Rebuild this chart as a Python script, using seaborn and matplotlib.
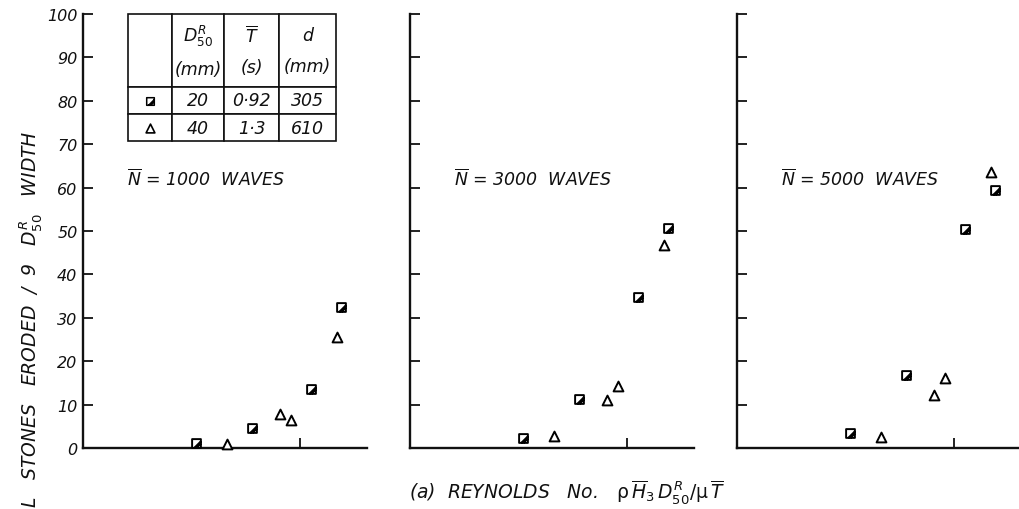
import numpy as np
import pandas as pd
import matplotlib
matplotlib.use("Agg")
import matplotlib.pyplot as plt
from matplotlib.path import Path
import seaborn as sns

# ---------------- data ----------------
wave_counts = ["1000", "3000", "5000"]
square_x = [0.52, 0.78, 1.05, 1.19]          # relative Reynolds number, D50=20 mm
triangle_x = [0.665, 0.91, 0.96, 1.17]       # relative Reynolds number, D50=40 mm
square_y_1000 = [1.1, 4.7, 13.7, 32.5]
square_y_3000 = [2.3, 11.4, 34.8, 50.8]
square_y_5000 = [3.5, 16.8, 50.4, 59.5]
triangle_y_1000 = [1.0, 7.8, 6.4, 25.5]
triangle_y_3000 = [2.7, 11.0, 14.3, 46.8]
triangle_y_5000 = [2.5, 12.2, 16.1, 63.5]
y_ticks = list(range(0, 101, 10))
x_ticks = [1.0]
table_header = ["", "$D^{R}_{50}$\n(mm)", "$\\overline{T}$\n(s)", "d\n(mm)"]
table_rows = [["", "20", "0\u00b792", "305"], ["", "40", "1\u00b73", "610"]]

square_y = {"1000": square_y_1000, "3000": square_y_3000, "5000": square_y_5000}
triangle_y = {"1000": triangle_y_1000, "3000": triangle_y_3000, "5000": triangle_y_5000}

rows = []
for w in wave_counts:
    for x, y in zip(square_x, square_y[w]):
        rows.append({"waves": w, "series": "square", "x": x, "y": y})
    for x, y in zip(triangle_x, triangle_y[w]):
        rows.append({"waves": w, "series": "triangle", "x": x, "y": y})
df = pd.DataFrame(rows)

# ---------------- style ----------------
sns.set_theme(style="ticks")
plt.rcParams["font.family"] = ["DejaVu Sans"]
plt.rcParams["mathtext.fontset"] = "custom"
plt.rcParams["mathtext.it"] = "DejaVu Sans:italic"
plt.rcParams["mathtext.rm"] = "DejaVu Sans"
plt.rcParams["mathtext.cal"] = "DejaVu Sans:italic"

# square marker with a hatched corner
sq_verts = [(-1, -1), (1, -1), (1, 1), (-1, 1), (-1, -1),
            (0.0, -1), (1, 0.0), (-0.5, -1), (1, 0.5)]
sq_codes = [Path.MOVETO, Path.LINETO, Path.LINETO, Path.LINETO, Path.CLOSEPOLY,
            Path.MOVETO, Path.LINETO, Path.MOVETO, Path.LINETO]
square_marker = Path(sq_verts, sq_codes)

W, H = 1020, 510
fig = plt.figure(figsize=(W / 100, H / 100), dpi=100)
fig.patch.set_facecolor("white")

lefts = [83, 410, 737]
ax_w = 284
ax_bottom = 61
ax_h = 434
axes = []
for i, w in enumerate(wave_counts):
    ax = fig.add_axes([lefts[i] / W, ax_bottom / H, ax_w / W, ax_h / H])
    axes.append(ax)
    sub = df[df["waves"] == w]
    sns.scatterplot(data=sub[sub["series"] == "square"], x="x", y="y", ax=ax,
                    marker=square_marker, s=40, color="white", edgecolor="black",
                    linewidth=1.4, zorder=3, clip_on=False)
    sns.scatterplot(data=sub[sub["series"] == "triangle"], x="x", y="y", ax=ax,
                    marker="^", s=50, color="white", edgecolor="black",
                    linewidth=1.4, zorder=3, clip_on=False)
    ax.set_xlim(0, 1.31)
    ax.set_ylim(0, 100)
    ax.set_xticks(x_ticks)
    ax.set_yticks(y_ticks)
    ax.set_xlabel("")
    ax.set_ylabel("")
    ax.set_facecolor("white")
    for s in ["top", "right"]:
        ax.spines[s].set_visible(False)
    for s in ["left", "bottom"]:
        ax.spines[s].set_linewidth(1.7)
        ax.spines[s].set_color("#111111")
    ax.tick_params(axis="both", direction="in", length=7.5, width=1.3, color="#111111")
    ax.tick_params(axis="x", labelbottom=False)
    if i == 0:
        ax.tick_params(axis="y", labelsize=11.5, pad=4, labelcolor="#111111")
        for lab in ax.get_yticklabels():
            lab.set_fontstyle("italic")
    else:
        ax.tick_params(axis="y", labelleft=False)
    ax.text(0.155, 0.622, "$\\overline{N}$ = %s  WAVES" % w, transform=ax.transAxes,
            ha="left", va="center", fontsize=12.5, fontstyle="italic", color="#111111")

# ---------------- table in first panel ----------------
ax = axes[0]
tbl_left = (128 - 83) / ax_w
tbl_right = (336 - 83) / ax_w
tbl_top = 1.0
tbl_bottom = 1 - (142 - 15) / ax_h
col_px = [44, 52, 55, 57]
row_px = [73, 27, 27]
col_w = [c / sum(col_px) for c in col_px]
tbl = ax.table(cellText=[table_header] + table_rows, colWidths=col_w,
               cellLoc="center",
               bbox=[tbl_left, tbl_bottom, tbl_right - tbl_left, tbl_top - tbl_bottom])
tbl.auto_set_font_size(False)
for (r, c), cell in tbl.get_celld().items():
    cell.set_height(row_px[r])
    cell.set_edgecolor("#111111")
    cell.set_linewidth(1.2)
    cell.set_facecolor("white")
    t = cell.get_text()
    t.set_fontsize(12.5)
    t.set_fontstyle("italic")
    t.set_color("#111111")
    if r == 0:
        t.set_linespacing(1.9)

# legend markers inside the table's first column
tw = tbl_right - tbl_left
th = tbl_top - tbl_bottom
mx = tbl_left + tw * col_w[0] / 2
row1_c = tbl_top - th * (row_px[0] + row_px[1] / 2) / sum(row_px)
row2_c = tbl_top - th * (row_px[0] + row_px[1] + row_px[2] / 2) / sum(row_px)
ax.scatter([mx], [row1_c], transform=ax.transAxes, marker=square_marker, s=30,
           facecolor="white", edgecolor="black", linewidth=1.1, zorder=5, clip_on=False)
ax.scatter([mx], [row2_c], transform=ax.transAxes, marker="^", s=40,
           facecolor="white", edgecolor="black", linewidth=1.2, zorder=5, clip_on=False)

# ---------------- axis titles ----------------
fig.text(567 / W, 1 - 493 / H,
         "(a)  REYNOLDS   No.   $\\mathrm{\\rho}\\,\\overline{H}_3\\,D^{R}_{50}/\\mathrm{\\mu}\\,\\overline{T}$",
         ha="center", va="center", fontsize=13.5, fontstyle="italic", color="#111111")
fig.text(31 / W, 1 - 319 / H, "L   STONES   ERODED  /  9   $D^{R}_{50}$   WIDTH",
         rotation=90, ha="center", va="center", fontsize=13.5, fontstyle="italic",
         color="#111111")

fig.savefig("out.png", dpi=100, facecolor="white")
